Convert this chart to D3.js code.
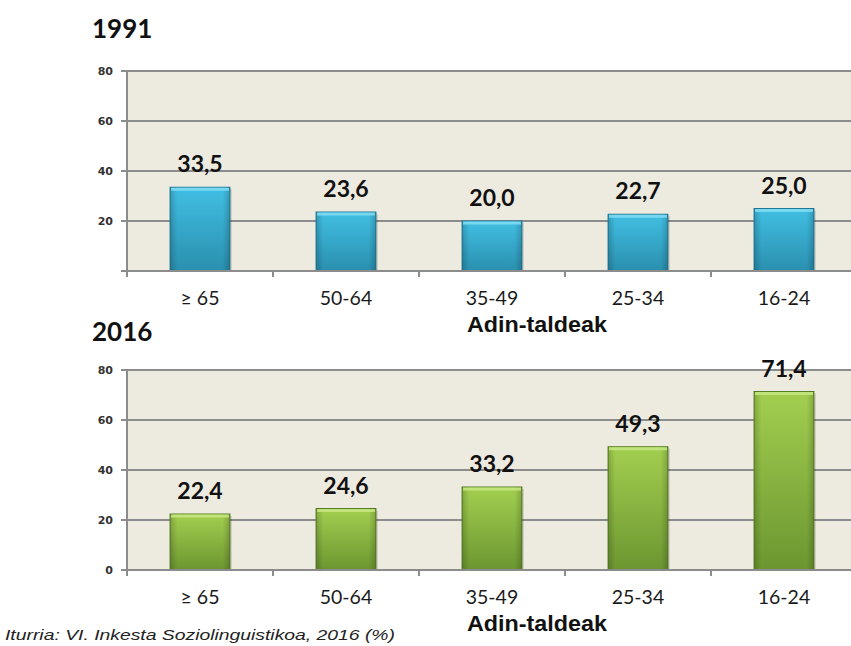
<!DOCTYPE html>
<html><head><meta charset="utf-8">
<script src="https://cdn.jsdelivr.net/npm/d3@7/dist/d3.min.js"></script>
<style>html,body{margin:0;padding:0;background:#fff;}svg{display:block;}</style>
</head><body>
<svg id="c" width="851" height="646"></svg>
<script>
const categories = ["≥ 65", "50-64", "35-49", "25-34", "16-24"];
const values1991 = [33.5, 23.6, 20.0, 22.7, 25.0];
const values2016 = [22.4, 24.6, 33.2, 49.3, 71.4];
const yTicks1991 = [20, 40, 60, 80];
const yTicks2016 = [0, 20, 40, 60, 80];
const titles = ["1991", "2016"];
const axisTitle = "Adin-taldeak";
const source = "Iturria: VI. Inkesta Soziolinguistikoa, 2016 (%)";

const svg = d3.select("#c");
const defs = svg.append("defs");
function grad(id, top, bottom) {
  const g = defs.append("linearGradient").attr("id", id).attr("x1", 0).attr("y1", 0).attr("x2", 0).attr("y2", 1);
  g.append("stop").attr("offset", "0%").attr("stop-color", top);
  g.append("stop").attr("offset", "100%").attr("stop-color", bottom);
  const h = defs.append("linearGradient").attr("id", id + "h").attr("x1", 0).attr("y1", 0).attr("x2", 1).attr("y2", 0);
  h.append("stop").attr("offset", "0%").attr("stop-color", "#000").attr("stop-opacity", 0.18);
  h.append("stop").attr("offset", "12%").attr("stop-color", "#000").attr("stop-opacity", 0);
  h.append("stop").attr("offset", "88%").attr("stop-color", "#000").attr("stop-opacity", 0);
  h.append("stop").attr("offset", "100%").attr("stop-color", "#000").attr("stop-opacity", 0.18);
}
grad("gb", "#41bfe3", "#2a8fae");
grad("gg", "#a3cf50", "#6b9630");

const left = 127, right = 857;
const x = d3.scaleBand().domain(categories).range([left, right]).paddingInner(0.59).paddingOuter(0.295);
const step = x.step();

function panel(values, ticks, top, bottom, title, fillId, stroke, topLight, titleY) {
  const y = d3.scaleLinear().domain([0, 80]).range([bottom, top]);
  const g = svg.append("g");
  g.append("rect").attr("x", left).attr("y", y(80)).attr("width", 851 - left).attr("height", y(0) - y(80)).attr("fill", "#edeae0");
  // grid lines
  g.selectAll(".grid").data(ticks.filter(t => t > 0)).enter().append("line")
    .attr("x1", left - 6).attr("x2", 851).attr("y1", d => y(d)).attr("y2", d => y(d))
    .attr("stroke", "#8c8c8c").attr("stroke-width", 2);
  // zero tick
  g.append("line").attr("x1", left - 6).attr("x2", left).attr("y1", y(0)).attr("y2", y(0)).attr("stroke", "#8c8c8c").attr("stroke-width", 2);
  // y labels
  g.selectAll(".yl").data(ticks).enter().append("text")
    .attr("x", 113).attr("y", d => y(d)).attr("dy", "0.36em").attr("text-anchor", "end")
    .attr("font-family", "DejaVu Sans").attr("font-weight", "bold").attr("font-size", 11)
    .attr("fill", "#333").text(d => d);
  // bars
  const bars = g.selectAll(".bar").data(values).enter().append("g");
  bars.append("rect").attr("x", (d, i) => x(categories[i]) + 2).attr("y", d => y(d) + 2)
    .attr("width", x.bandwidth()).attr("height", d => y(0) - y(d) - 2).attr("fill", "#000").attr("opacity", 0.12);
  bars.append("rect").attr("x", (d, i) => x(categories[i])).attr("y", d => y(d))
    .attr("width", x.bandwidth()).attr("height", d => y(0) - y(d))
    .attr("fill", `url(#${fillId})`).attr("stroke", stroke).attr("stroke-width", 1);
  bars.append("rect").attr("x", (d, i) => x(categories[i])).attr("y", d => y(d))
    .attr("width", x.bandwidth()).attr("height", d => y(0) - y(d)).attr("fill", `url(#${fillId}h)`);
  bars.append("rect").attr("x", (d, i) => x(categories[i]) + 1).attr("y", d => y(d) + 0.5)
    .attr("width", x.bandwidth() - 2).attr("height", 3).attr("fill", topLight).attr("opacity", 0.9);
  // value labels
  g.selectAll(".vl").data(values).enter().append("text")
    .attr("x", (d, i) => x(categories[i]) + x.bandwidth() / 2).attr("y", d => y(d) - 15)
    .attr("text-anchor", "middle").attr("font-family", "Lato").attr("font-weight", "bold").attr("font-size", 23)
    .attr("fill", "#111").text(d => d.toFixed(1).replace(".", ","));
  // axes lines
  g.append("line").attr("x1", left).attr("x2", left).attr("y1", y(80)).attr("y2", y(0)).attr("stroke", "#8c8c8c").attr("stroke-width", 2);
  g.append("line").attr("x1", left - 6).attr("x2", 851).attr("y1", y(0)).attr("y2", y(0)).attr("stroke", "#8c8c8c").attr("stroke-width", 2);
  // category boundary ticks
  g.selectAll(".xt").data(d3.range(categories.length + 1)).enter().append("line")
    .attr("x1", i => left + i * step).attr("x2", i => left + i * step)
    .attr("y1", y(0)).attr("y2", y(0) + 6).attr("stroke", "#8c8c8c").attr("stroke-width", 2);
  // category labels
  g.selectAll(".cl").data(categories).enter().append("text")
    .attr("x", d => x(d) + x.bandwidth() / 2).attr("y", y(0) + 34)
    .attr("text-anchor", "middle").attr("font-family", "Lato").attr("font-size", 19.5)
    .attr("fill", "#1a1a1a").text(d => d);
  // axis title
  g.append("text").attr("x", 467).attr("y", y(0) + 61).attr("font-family", "Liberation Sans")
    .attr("font-weight", "bold").attr("font-size", 22).attr("textLength", 140).attr("lengthAdjust", "spacingAndGlyphs")
    .attr("fill", "#111").text(axisTitle);
  // title
  svg.append("text").attr("x", 92).attr("y", titleY).attr("font-family", "Lato").attr("font-weight", "bold")
    .attr("font-size", 26).attr("fill", "#111").text(title);
}

panel(values1991, yTicks1991, 71, 271, titles[0], "gb", "#1f7896", "#7fdaf3", 38);
panel(values2016, yTicks2016, 370, 570, titles[1], "gg", "#557d22", "#c3e57f", 341);

svg.append("text").attr("x", 5).attr("y", 640).attr("font-family", "Liberation Sans").attr("font-style", "italic")
  .attr("font-size", 15).attr("textLength", 390).attr("lengthAdjust", "spacingAndGlyphs")
  .attr("fill", "#222").text(source);
</script>
</body></html>
